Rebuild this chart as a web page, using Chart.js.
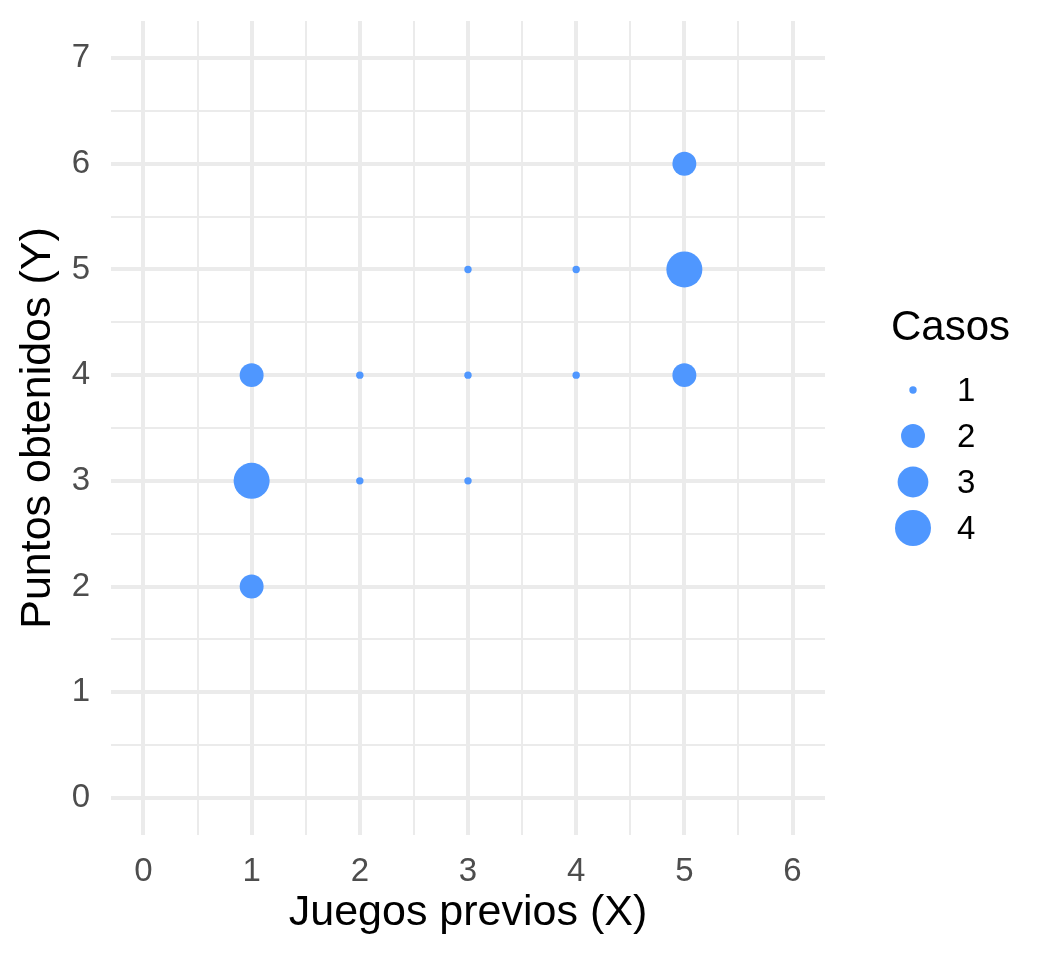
<!DOCTYPE html>
<html>
<head>
<meta charset="utf-8">
<script src="https://cdn.jsdelivr.net/npm/chart.js@4"></script>
<style>
  body { margin: 0; background: #fff; }
  canvas { display: block; }
</style>
</head>
<body>
<canvas id="chart" width="1056" height="960"></canvas>
<script>
// data
const juegos = [1, 1, 1, 2, 2, 3, 3, 3, 4, 4, 5, 5, 5];
const puntos = [2, 3, 4, 3, 4, 3, 4, 5, 4, 5, 4, 5, 6];
const casos = [2, 4, 2, 1, 1, 1, 1, 1, 1, 1, 2, 4, 2];
const legendLevels = [1, 2, 3, 4];
const xTicks = [0, 1, 2, 3, 4, 5, 6];
const yTicks = [0, 1, 2, 3, 4, 5, 6, 7];

const blue = "#4F97FF";
const font = "'Liberation Sans', Arial, sans-serif";

// ggplot area scale, range 1..6 in size units
function radiusFor(c) {
  const t = Math.sqrt((c - 1) / 3);
  return 3.7 + t * 14.3;
}

// major ticks plus the minor half steps in between
function withMinor(ticks) {
  const out = [];
  ticks.forEach((v, i) => {
    out.push(v);
    if (i < ticks.length - 1) out.push(v + 0.5);
  });
  return out;
}

const gridColor = "#EBEBEB";
const gridWidth = ctx => (Number.isInteger(ctx.tick.value) ? 4 : 2);

const legendPlugin = {
  id: "casosLegend",
  afterDraw(chart) {
    const ctx = chart.ctx;
    const area = chart.chartArea;
    const cx = area.right + 88;
    ctx.save();
    ctx.fillStyle = "#000";
    ctx.textBaseline = "middle";
    ctx.textAlign = "left";
    ctx.font = "42px " + font;
    ctx.fillText("Casos", area.right + 66, 328);
    ctx.font = "33px " + font;
    legendLevels.forEach((lv, i) => {
      const y = 390 + i * 46;
      ctx.fillStyle = blue;
      ctx.beginPath();
      ctx.arc(cx, y, radiusFor(lv), 0, Math.PI * 2);
      ctx.fill();
      ctx.fillStyle = "#000";
      ctx.fillText(String(lv), area.right + 132, y + 2);
    });
    ctx.restore();
  }
};

const data = {
  datasets: [
    {
      label: "Casos",
      data: juegos.map((x, i) => ({ x: x, y: puntos[i] })),
      backgroundColor: blue,
      borderWidth: 0,
      pointRadius: ctx => radiusFor(casos[ctx.dataIndex]),
      pointHoverRadius: ctx => radiusFor(casos[ctx.dataIndex])
    }
  ]
};

const config = {
  type: "scatter",
  data: data,
  options: {
    responsive: false,
    animation: false,
    devicePixelRatio: 1,
    layout: { padding: { left: 0, top: 21, right: 231, bottom: 0 } },
    plugins: {
      legend: { display: false },
      tooltip: { enabled: false }
    },
    scales: {
      x: {
        type: "linear",
        min: -0.3,
        max: 6.3,
        afterBuildTicks: s => { s.ticks = withMinor(xTicks).map(v => ({ value: v })); },
        afterFit: s => { s.height = 125; s.paddingLeft = 0; s.paddingRight = 0; },
        grid: { color: gridColor, lineWidth: gridWidth, drawTicks: false },
        border: { display: false },
        ticks: {
          padding: 17,
          color: "#4D4D4D",
          font: { family: font, size: 33 },
          maxRotation: 0,
          autoSkip: false,
          callback: v => (Number.isInteger(v) ? String(v) : "")
        },
        title: {
          display: true,
          text: "Juegos previos (X)",
          color: "#000",
          font: { family: font, size: 43 },
          padding: { top: 0, bottom: 21 }
        }
      },
      y: {
        type: "linear",
        min: -0.35,
        max: 7.35,
        afterBuildTicks: s => { s.ticks = withMinor(yTicks).map(v => ({ value: v })); },
        afterFit: s => { s.width = 111; s.paddingTop = 0; s.paddingBottom = 0; },
        grid: { color: gridColor, lineWidth: gridWidth, drawTicks: false },
        border: { display: false },
        ticks: {
          padding: 21,
          color: "#4D4D4D",
          font: { family: font, size: 33 },
          autoSkip: false,
          callback: v => (Number.isInteger(v) ? String(v) : "")
        },
        title: {
          display: true,
          text: "Puntos obtenidos (Y)",
          color: "#000",
          font: { family: font, size: 43 },
          padding: { top: 12, bottom: 0 }
        }
      }
    }
  },
  plugins: [legendPlugin]
};

const myChart = new Chart(document.getElementById("chart"), config);
</script>
</body>
</html>
